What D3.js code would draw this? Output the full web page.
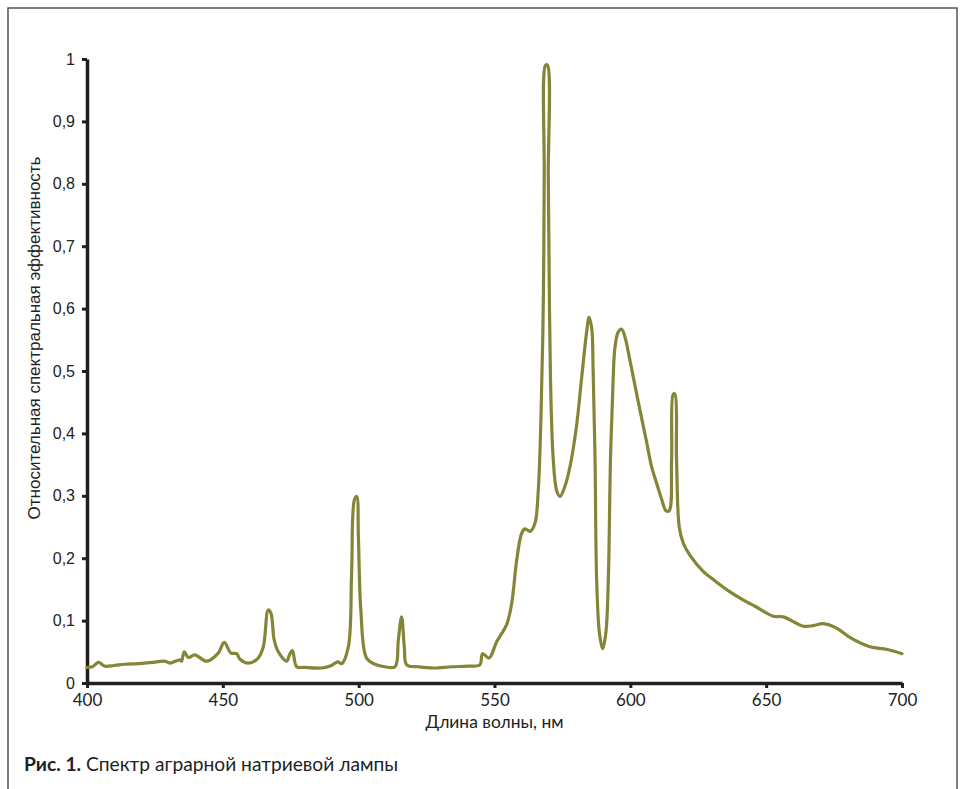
<!DOCTYPE html>
<html><head><meta charset="utf-8">
<script src="https://cdn.jsdelivr.net/npm/d3@7"></script>
<style>html,body{margin:0;padding:0;background:#fff;}svg{display:block;}</style>
</head><body>
<script>
const wavelengths = [400,402,404.2,406.6,410,414,419,423.8,428.7,430.5,434.2,434.8,435.8,437.3,439.7,444,448.3,450.5,453,455.1,456.3,459.4,463,464.9,466.7,467.7,468.9,470.4,473.5,474.5,475.6,477.2,480,486.4,490,492.3,493.7,496.2,497.4,498.4,499.3,499.9,500.8,502.9,506,509.7,513.4,514.6,515.8,516.8,517.7,522,527.5,534.2,540.3,544.6,545.6,548,550.8,554.5,556.3,558.2,560,561.2,563.1,564.9,566.1,567.1,568,568.3,568.8,569.5,569.8,570,570.6,571.6,572.9,574.1,575.9,577.8,580.2,582.1,583.9,584.8,585.8,586.3,587,587.6,588.6,589.8,591,591.9,592.7,593.7,594.3,595.5,596.8,598,599.9,601.7,603.5,606,607.8,609.6,611.5,613.1,614.3,615.2,615.8,616.4,617,618,619.5,621.9,626.8,630.5,636.7,642.8,645.9,652.6,656.3,663.7,667.3,671,675.9,680.8,688.2,694.3,700];
const efficiency = [0.025,0.026,0.033,0.027,0.028,0.030,0.031,0.033,0.035,0.032,0.037,0.035,0.050,0.041,0.045,0.035,0.048,0.065,0.048,0.047,0.038,0.032,0.040,0.058,0.117,0.112,0.069,0.050,0.035,0.045,0.052,0.026,0.025,0.024,0.028,0.034,0.031,0.058,0.176,0.293,0.299,0.234,0.117,0.040,0.030,0.026,0.026,0.069,0.106,0.058,0.029,0.026,0.024,0.026,0.027,0.029,0.047,0.040,0.066,0.094,0.127,0.198,0.240,0.247,0.243,0.256,0.308,0.425,0.62,0.815,0.99,0.99,0.815,0.717,0.49,0.36,0.308,0.299,0.315,0.347,0.412,0.49,0.562,0.586,0.568,0.503,0.36,0.166,0.081,0.055,0.081,0.166,0.36,0.49,0.536,0.562,0.567,0.555,0.516,0.477,0.438,0.386,0.347,0.321,0.295,0.276,0.276,0.36,0.463,0.463,0.36,0.25,0.224,0.205,0.179,0.166,0.146,0.130,0.123,0.107,0.106,0.091,0.092,0.095,0.088,0.073,0.058,0.054,0.047];
const xTicks = [400,450,500,550,600,650,700];
const yTicks = [0,0.1,0.2,0.3,0.4,0.5,0.6,0.7,0.8,0.9,1];
const xTitle = "Длина волны, нм";
const yTitle = "Относительная спектральная эффективность";
const captionBold = "Рис. 1.";
const captionText = " Спектр аграрной натриевой лампы";

const W = 962, H = 789;
const svg = d3.select("body").append("svg").attr("width", W).attr("height", H);

// frame (open at bottom)
svg.append("path")
  .attr("d", d3.line()([[8, H], [8, 8], [957, 8], [957, H]]))
  .attr("fill", "none").attr("stroke", "#555").attr("stroke-width", 1.5);

const x = d3.scaleLinear().domain([400, 700]).range([87, 902]);
const y = d3.scaleLinear().domain([0, 1]).range([683, 59]);
const axisColor = "#231f20";

// x axis
const gx = svg.append("g").attr("transform", `translate(0,${y(0)})`)
  .call(d3.axisBottom(x).tickValues(xTicks).tickSize(5).tickSizeOuter(0).tickPadding(6).tickFormat(d3.format("d")));
gx.select(".domain").attr("stroke", axisColor).attr("stroke-width", 3.5);
gx.selectAll(".tick line").attr("stroke", axisColor).attr("stroke-width", 3);
gx.selectAll(".tick text").attr("font-family", "Lato, 'Open Sans', sans-serif").attr("font-size", 17).attr("fill", "#222");

// y axis
const gy = svg.append("g").attr("transform", `translate(${x(400)},0)`)
  .call(d3.axisLeft(y).tickValues(yTicks).tickSize(5).tickSizeOuter(0).tickPadding(7)
    .tickFormat(d => d3.format(".1~f")(d).replace(".", ",")));
gy.select(".domain").attr("stroke", axisColor).attr("stroke-width", 3.5);
gy.selectAll(".tick line").attr("stroke", axisColor).attr("stroke-width", 3);
gy.selectAll(".tick text").attr("font-family", "'Liberation Sans', Arial, sans-serif").attr("font-size", 16).attr("fill", "#222");

// line
const pts = wavelengths.map((w, i) => [w, efficiency[i]]);
svg.append("path").datum(pts)
  .attr("d", d3.line().x(d => x(d[0])).y(d => y(d[1])).curve(d3.curveCatmullRom.alpha(0.5)))
  .attr("fill", "none").attr("stroke", "#858538").attr("stroke-width", 3.2)
  .attr("stroke-linejoin", "round").attr("stroke-linecap", "round");

// titles
svg.append("text").attr("x", (x(400) + x(700)) / 2).attr("y", 728)
  .attr("text-anchor", "middle").attr("font-family", "Lato, 'Open Sans', sans-serif")
  .attr("font-size", 17.4).attr("fill", "#222").text(xTitle);

svg.append("text").attr("transform", `translate(40,338) rotate(-90)`)
  .attr("text-anchor", "middle").attr("font-family", "'Liberation Sans', Arial, sans-serif")
  .attr("font-size", 17).attr("fill", "#222").text(yTitle);

const cap = svg.append("text").attr("x", 24).attr("y", 771)
  .attr("font-family", "Lato, 'Open Sans', sans-serif").attr("font-size", 19.2).attr("fill", "#222");
cap.append("tspan").attr("font-weight", "bold").text(captionBold);
cap.append("tspan").text(captionText);
</script>
</body></html>
